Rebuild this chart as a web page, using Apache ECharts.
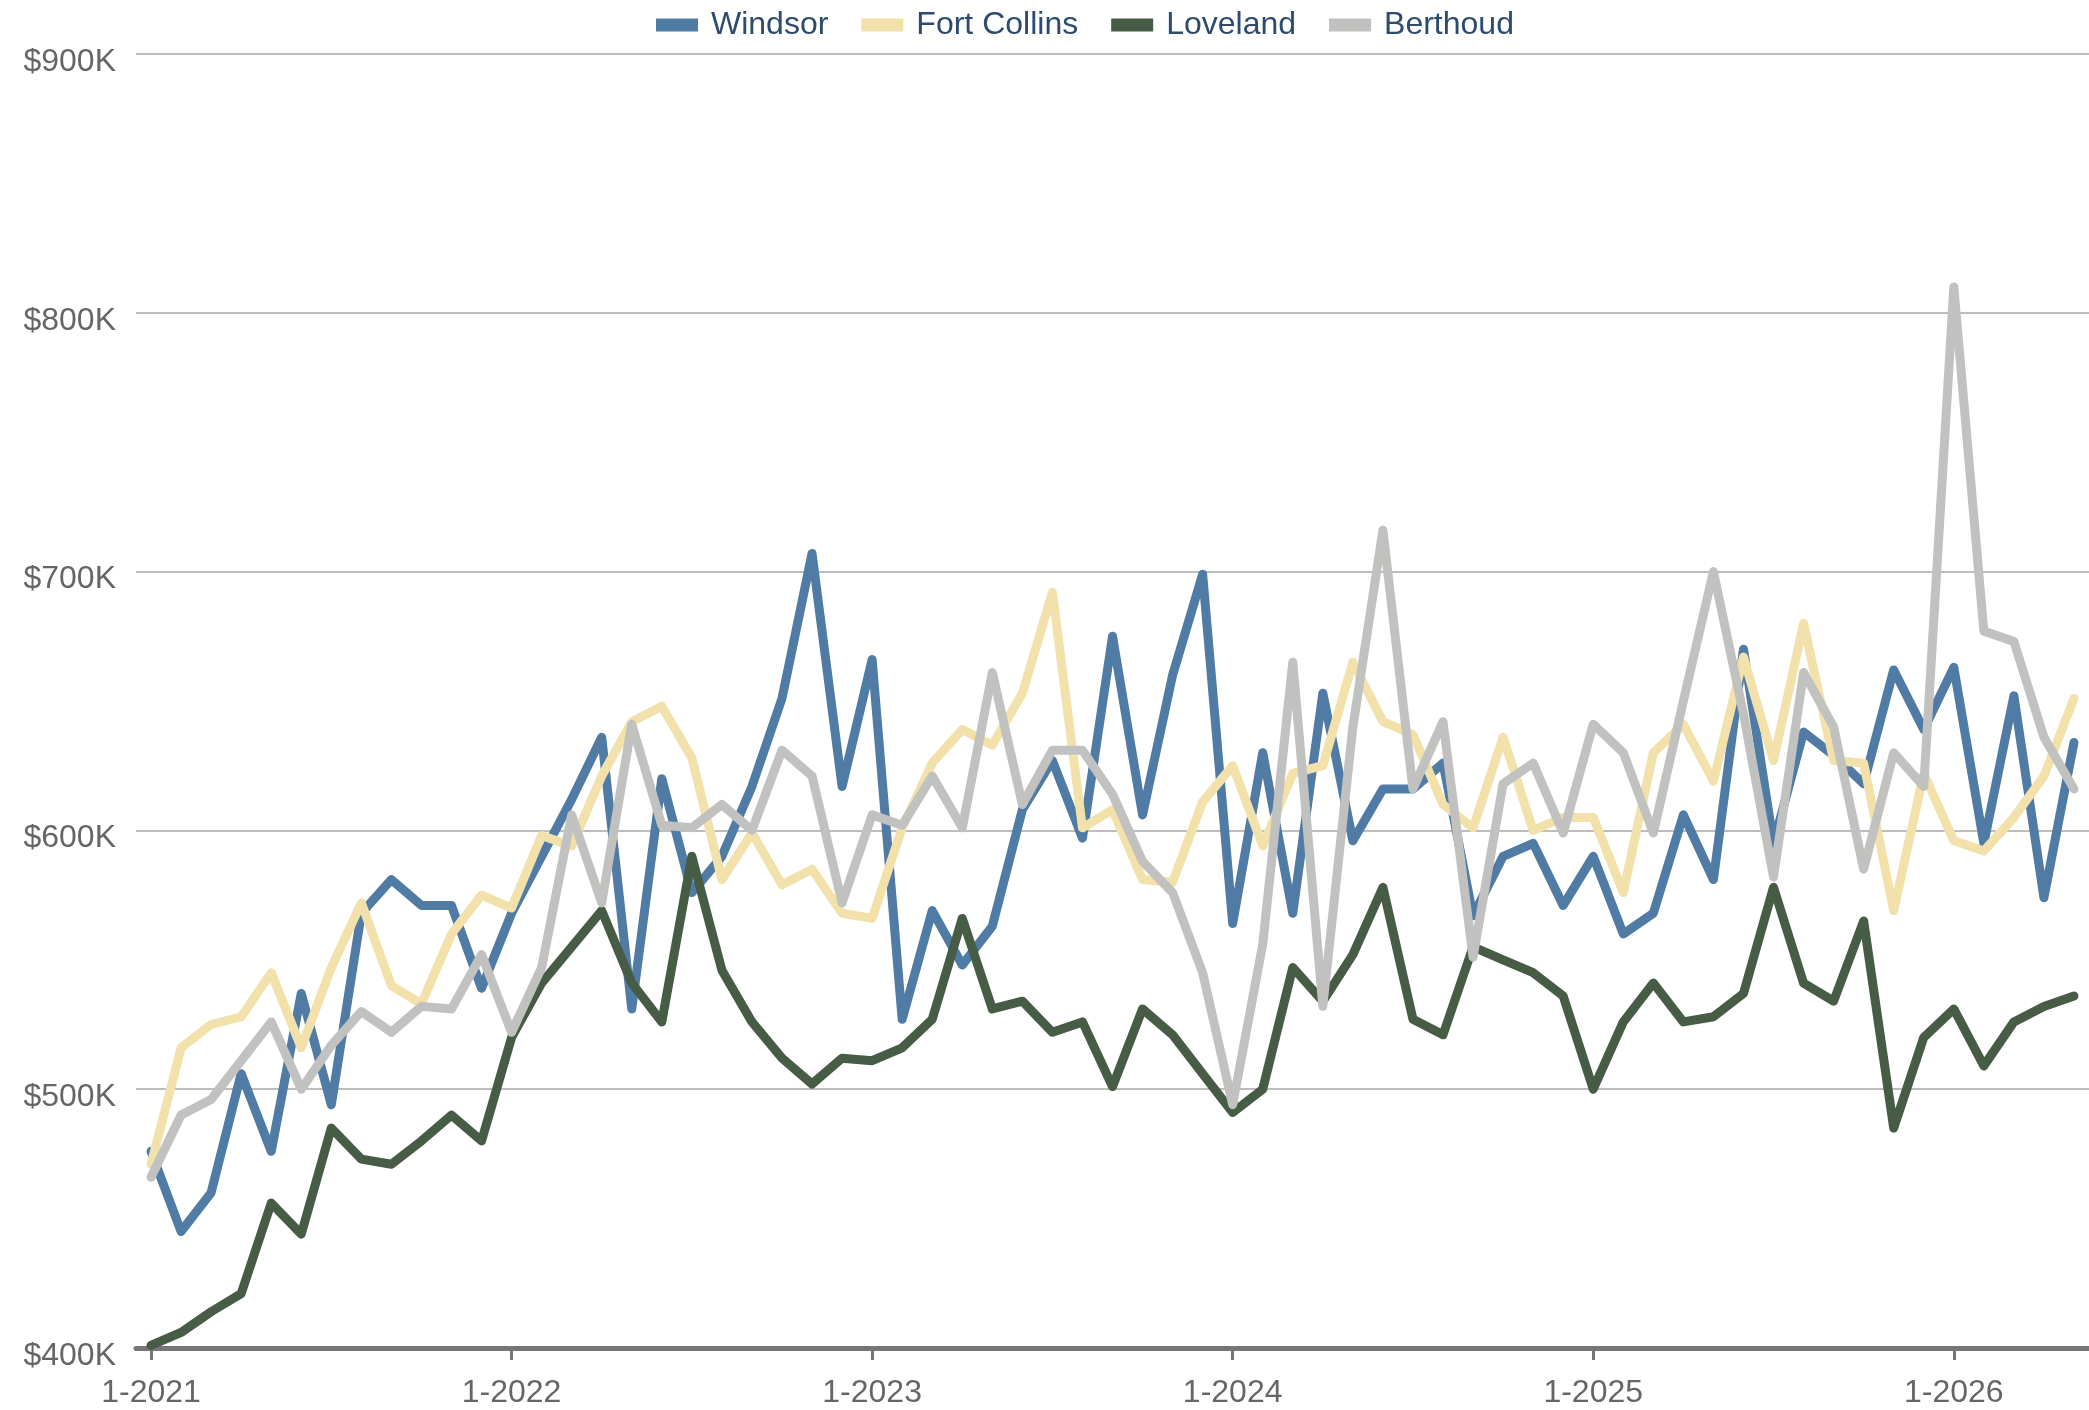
<!DOCTYPE html>
<html>
<head>
<meta charset="utf-8">
<script src="https://cdn.jsdelivr.net/npm/echarts@6/dist/echarts.min.js"></script>
<style>
html,body{margin:0;padding:0;background:#fff;}
#chart{width:2089px;height:1410px;}
</style>
</head>
<body>
<div id="chart"></div>
<script>
// Month labels Jan 2021 .. May 2026
const categories = [];
for (let y = 2021; y <= 2026; y++) {
  for (let m = 1; m <= 12; m++) {
    if (y === 2026 && m > 5) break;
    categories.push(m + '-' + y);
  }
}
// Median price values in $K
const windsor = [476,445,460,506,476,537,494,568,581,571,571,539,568,590,612,636,531,620,576,590,617,651,707,617,666,527,569,548,563,608,627,597,675,606,660,699,564,630,568,653,596,616,616,626,567,590,595,571,590,560,568,606,581,670,595,638,629,618,662,639,663,595,652,574,634];
const fortCollins = [471,516,525,528,545,516,547,572,540,533,560,575,570,598,594,621,642,648,628,581,599,579,585,568,566,601,626,639,633,653,692,601,608,581,580,611,625,594,622,625,665,642,637,610,601,636,600,605,605,576,630,641,619,667,627,680,627,626,569,622,596,592,605,621,651];
const loveland = [401,406,414,421,456,444,485,473,471,480,490,480,520,541,555,569,541,526,590,546,526,512,502,512,511,516,527,566,531,534,522,526,501,531,521,506,491,500,547,534,552,578,527,521,555,550,545,536,500,526,541,526,528,537,578,541,534,565,485,520,531,509,526,532,536];
const berthoud = [466,490,496,511,526,500,517,530,522,532,531,552,522,547,606,572,641,602,601,610,600,631,621,572,606,602,621,601,661,610,631,631,614,588,576,545,494,556,665,532,640,716,616,642,551,618,626,599,641,630,599,650,700,645,582,661,640,585,630,617,810,677,673,636,616];
const yTicks = [400, 500, 600, 700, 800, 900];

const seriesNames = ['Windsor', 'Fort Collins', 'Loveland', 'Berthoud'];
const seriesData = [windsor, fortCollins, loveland, berthoud];
const colors = ['#4f7ba4', '#f2e1ab', '#465c45', '#c1c1c0'];

const chart = echarts.init(document.getElementById('chart'));
const font = '"Liberation Sans", Arial, Helvetica, sans-serif';
chart.setOption({
  animation: false,
  color: colors,
  textStyle: { fontFamily: font },
  legend: {
    left: 651,
    top: 4,
    itemWidth: 42,
    itemHeight: 13,
    itemGap: 33,
    icon: 'rect',
    textStyle: { fontSize: 32, color: '#2d4b6f', fontFamily: font, padding: [0, 0, 0, 8] },
    data: seriesNames
  },
  grid: { left: 136, right: -1, top: 54, bottom: 62, containLabel: false },
  xAxis: {
    type: 'category',
    data: categories,
    boundaryGap: true,
    axisLine: { show: true, lineStyle: { color: '#767676', width: 5 } },
    axisTick: { show: true, alignWithLabel: true, interval: 11, length: 12, lineStyle: { color: '#767676', width: 3 } },
    axisLabel: { interval: 11, fontSize: 32, color: '#666', margin: 29, fontFamily: font },
    splitLine: { show: false }
  },
  yAxis: {
    type: 'value',
    min: yTicks[0],
    max: yTicks[yTicks.length - 1],
    interval: 100,
    axisLine: { show: false },
    axisTick: { show: false },
    axisLabel: {
      fontSize: 32, color: '#666', margin: 20, fontFamily: font,
      verticalAlign: 'top', lineHeight: 16,
      formatter: v => '$' + v + 'K'
    },
    splitLine: { lineStyle: { color: '#bdbdbd', width: 2 } }
  },
  series: seriesNames.map((n, i) => ({
    name: n,
    type: 'line',
    data: seriesData[i],
    symbol: 'none',
    lineStyle: { width: 9, color: colors[i], cap: 'round', join: 'round' },
    itemStyle: { color: colors[i] }
  }))
});
</script>
</body>
</html>
